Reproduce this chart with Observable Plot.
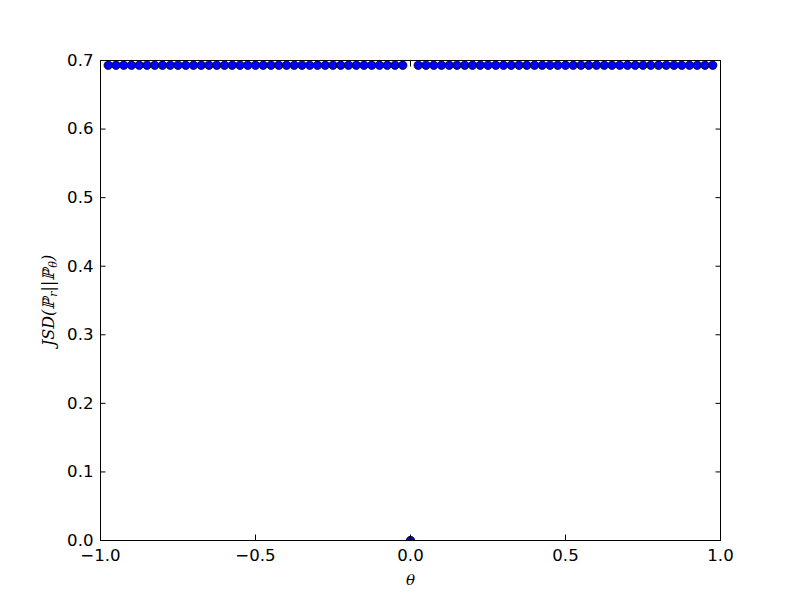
<!DOCTYPE html>
<html>
<head>
<meta charset="utf-8">
<script src="https://cdn.jsdelivr.net/npm/d3@7"></script>
<script src="https://cdn.jsdelivr.net/npm/@observablehq/plot@0.6"></script>
<style>
  html, body { margin: 0; padding: 0; background: #fff; }
  #chart { width: 800px; height: 600px; }
</style>
</head>
<body>
<div id="chart"></div>
<script>
// theta values (step 0.025, -0.975 .. 0.975)
const theta = [
  -0.975,-0.95,-0.925,-0.9,-0.875,-0.85,-0.825,-0.8,-0.775,-0.75,-0.725,-0.7,-0.675,-0.65,-0.625,-0.6,
  -0.575,-0.55,-0.525,-0.5,-0.475,-0.45,-0.425,-0.4,-0.375,-0.35,-0.325,-0.3,-0.275,-0.25,-0.225,-0.2,
  -0.175,-0.15,-0.125,-0.1,-0.075,-0.05,-0.025,0,0.025,0.05,0.075,0.1,0.125,0.15,0.175,0.2,0.225,0.25,
  0.275,0.3,0.325,0.35,0.375,0.4,0.425,0.45,0.475,0.5,0.525,0.55,0.575,0.6,0.625,0.65,0.675,0.7,0.725,
  0.75,0.775,0.8,0.825,0.85,0.875,0.9,0.925,0.95,0.975
];
// JSD values: ln 2 everywhere except theta = 0
const jsd = [
  0.6931,0.6931,0.6931,0.6931,0.6931,0.6931,0.6931,0.6931,0.6931,0.6931,0.6931,0.6931,0.6931,0.6931,0.6931,0.6931,
  0.6931,0.6931,0.6931,0.6931,0.6931,0.6931,0.6931,0.6931,0.6931,0.6931,0.6931,0.6931,0.6931,0.6931,0.6931,0.6931,
  0.6931,0.6931,0.6931,0.6931,0.6931,0.6931,0.6931,0,0.6931,0.6931,0.6931,0.6931,0.6931,0.6931,0.6931,0.6931,0.6931,0.6931,
  0.6931,0.6931,0.6931,0.6931,0.6931,0.6931,0.6931,0.6931,0.6931,0.6931,0.6931,0.6931,0.6931,0.6931,0.6931,0.6931,0.6931,0.6931,0.6931,
  0.6931,0.6931,0.6931,0.6931,0.6931,0.6931,0.6931,0.6931,0.6931,0.6931
];
const xTicks = [-1.0, -0.5, 0.0, 0.5, 1.0];
const yTicks = [0.0, 0.1, 0.2, 0.3, 0.4, 0.5, 0.6, 0.7];
const xLabel = ["θ"];
const yLabel = ["JSD(ℙr||ℙθ)"];

const data = theta.map((t, i) => ({theta: t, jsd: jsd[i]}));
const fmt = d3.format(".1f");
const fmtTick = d => fmt(d).replace("-", "\u2212");

const chart = Plot.plot({
  width: 800,
  height: 600,
  marginLeft: 100,
  marginRight: 80,
  marginTop: 60,
  marginBottom: 60,
  style: {fontFamily: "DejaVu Sans", fontSize: "16.6px", background: "#fff", color: "#000"},
  x: {domain: [-1, 1]},
  y: {domain: [0, 0.7]},
  marks: [
    Plot.dot(data, {x: "theta", y: "jsd", r: 4.2, fill: "#0000ff", stroke: "#000", strokeWidth: 0.8, clip: "frame"}),
    Plot.frame({stroke: "#000", strokeWidth: 1}),
    // tick labels
    Plot.axisX(xTicks, {anchor: "bottom", tickSize: 0, tickPadding: 9, tickFormat: fmtTick, label: null}),
    Plot.axisY(yTicks, {anchor: "left", tickSize: 0, tickPadding: 7, tickFormat: fmtTick, label: null}),
    // inward ticks on all four sides
    Plot.axisX(xTicks, {anchor: "bottom", tickSize: -5.5, tickFormat: () => "", label: null}),
    Plot.axisX(xTicks, {anchor: "top", tickSize: -5.5, tickFormat: () => "", label: null}),
    Plot.axisY(yTicks, {anchor: "left", tickSize: -5.5, tickFormat: () => "", label: null}),
    Plot.axisY(yTicks, {anchor: "right", tickSize: -5.5, tickFormat: () => "", label: null}),
    // axis titles
    Plot.text(xLabel, {frameAnchor: "bottom", dy: 40, text: d => d, fontFamily: "DejaVu Serif", fontStyle: "italic", fontSize: 15, lineAnchor: "middle"}),
    Plot.text(yLabel, {frameAnchor: "left", dx: -52, rotate: -90, textAnchor: "middle", text: d => d, fontFamily: "DejaVu Serif", fontStyle: "italic", fontSize: 16, lineAnchor: "middle", className: "ylab"})
  ]
});
document.getElementById("chart").appendChild(chart);

// subscripts in the y label
const yl = chart.querySelector(".ylab text");
if (yl) {
  yl.textContent = "";
  const parts = [["JSD(ℙ", 0], ["r", 1], ["||ℙ", 0], ["θ", 1], [")", 0]];
  const ns = "http://www.w3.org/2000/svg";
  for (const [s, sub] of parts) {
    const t = document.createElementNS(ns, "tspan");
    t.textContent = s;
    if (sub) { t.setAttribute("baseline-shift", "-25%"); t.setAttribute("font-size", "11"); t.setAttribute("dx", "1"); }
    else { t.setAttribute("baseline-shift", "0"); }
    yl.appendChild(t);
  }
}
</script>
</body>
</html>
